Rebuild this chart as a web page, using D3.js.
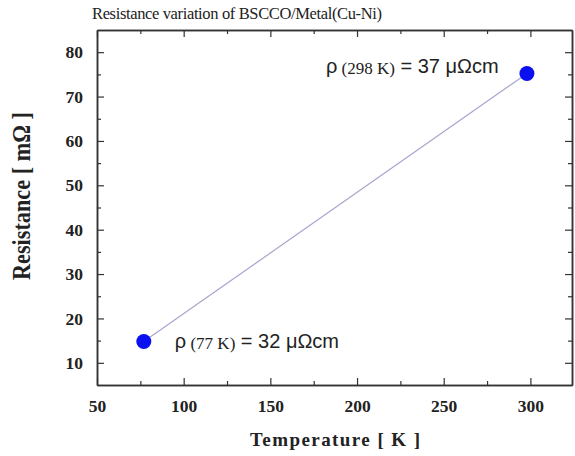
<!DOCTYPE html>
<html>
<head>
<meta charset="utf-8">
<script src="https://cdn.jsdelivr.net/npm/d3@7"></script>
<style>
  body { margin: 0; background: #fff; }
  svg text { font-family: "Liberation Serif", "Times New Roman", serif; }
</style>
</head>
<body>
<div id="chart"></div>
<script>
// data
var temps = [77, 298];
var resist = [14.8, 75.2];
var labels = ["(77 K)", "(298 K)"];
var rhoVals = ["= 32 μΩcm", "= 37 μΩcm"];
var xTicks = [50, 100, 150, 200, 250, 300];
var yTicks = [10, 20, 30, 40, 50, 60, 70, 80];

var outer_w = 575, outer_h = 456;
var margin = { top: 30, right: 3, bottom: 71, left: 97 };
var w = outer_w - margin.left - margin.right;
var h = outer_h - margin.top - margin.bottom;

var svg = d3.select("#chart").append("svg")
  .attr("width", outer_w)
  .attr("height", outer_h);

var g = svg.append("g")
  .attr("transform", "translate(" + margin.left + "," + margin.top + ")");

var x = d3.scaleLinear().domain([50, 324]).range([0, w]);
var y = d3.scaleLinear().domain([5, 85]).range([h, 0]);

// minor ticks
var xMinor = d3.range(75, 324, 50);
var yMinor = d3.range(15, 85, 10);

function styleAxis(sel) {
  sel.attr("font-family", null);
  sel.selectAll("path").attr("stroke", "#333").attr("stroke-width", 1.5);
  sel.selectAll("line").attr("stroke", "#333").attr("stroke-width", 1.2);
}
function styleLabels(s) {
  s.selectAll("text")
    .style("font-family", "'Liberation Serif', 'Times New Roman', serif")
    .style("font-size", "17.5px").style("font-weight", "bold")
    .attr("fill", "#222");
}

// bottom
g.append("g").attr("transform", "translate(0," + h + ")")
  .call(d3.axisBottom(x).tickValues(xTicks).tickSizeInner(-7).tickSizeOuter(0).tickPadding(15))
  .call(styleAxis)
  .call(styleLabels);
g.append("g").attr("transform", "translate(0," + h + ")")
  .call(d3.axisBottom(x).tickValues(xMinor).tickSizeInner(-4).tickSizeOuter(0).tickFormat(""))
  .call(styleAxis);

// top
g.append("g")
  .call(d3.axisTop(x).tickValues(xTicks).tickSizeInner(-7).tickSizeOuter(0).tickFormat(""))
  .call(styleAxis);
g.append("g")
  .call(d3.axisTop(x).tickValues(xMinor).tickSizeInner(-4).tickSizeOuter(0).tickFormat(""))
  .call(styleAxis);

// left
g.append("g")
  .call(d3.axisLeft(y).tickValues(yTicks).tickSizeInner(-7).tickSizeOuter(0).tickPadding(14))
  .call(styleAxis)
  .call(styleLabels);
g.append("g")
  .call(d3.axisLeft(y).tickValues(yMinor).tickSizeInner(-4).tickSizeOuter(0).tickFormat(""))
  .call(styleAxis);

// right
g.append("g").attr("transform", "translate(" + w + ",0)")
  .call(d3.axisRight(y).tickValues(yTicks).tickSizeInner(-7).tickSizeOuter(0).tickFormat(""))
  .call(styleAxis);
g.append("g").attr("transform", "translate(" + w + ",0)")
  .call(d3.axisRight(y).tickValues(yMinor).tickSizeInner(-4).tickSizeOuter(0).tickFormat(""))
  .call(styleAxis);

// line + points
var pts = temps.map(function (t, i) { return { t: t, r: resist[i] }; });
g.append("path")
  .datum(pts)
  .attr("fill", "none")
  .attr("stroke", "#a6a6cf")
  .attr("stroke-width", 1.2)
  .attr("d", d3.line().x(function (d) { return x(d.t); }).y(function (d) { return y(d.r); }));

g.selectAll("circle.pt")
  .data(pts)
  .enter().append("circle")
  .attr("class", "pt")
  .attr("cx", function (d) { return x(d.t); })
  .attr("cy", function (d) { return y(d.r); })
  .attr("r", 7.5)
  .attr("fill", "#0a10f0");

// annotations
var annoPos = [
  { dx: 31, dy: 6 },     // relative to point 77 K
  { dx: -201, dy: 0 }    // relative to point 298 K
];
pts.forEach(function (d, i) {
  var t = g.append("text")
    .attr("x", x(d.t) + annoPos[i].dx)
    .attr("y", y(d.r) + annoPos[i].dy)
    .attr("fill", "#222");
  t.append("tspan").text("ρ").style("font-size", "20px")
    .style("font-family", "'Liberation Sans', Arial, sans-serif");
  t.append("tspan").text(" " + labels[i]).style("font-size", "17px").attr("dy", 1);
  t.append("tspan").text(" " + rhoVals[i]).style("font-size", "20px").attr("dy", -1)
    .style("font-family", "'Liberation Sans', Arial, sans-serif");
});

// title
svg.append("text")
  .attr("x", 92).attr("y", 19)
  .attr("textLength", 290)
  .style("font-size", "16.5px")
  .attr("fill", "#222")
  .text("Resistance variation of BSCCO/Metal(Cu-Ni)");

// axis titles
svg.append("text")
  .attr("x", 250).attr("y", 446)
  .attr("textLength", 170)
  .style("font-size", "19px").style("font-weight", "bold")
  .attr("fill", "#222")
  .text("Temperature [ K ]");

svg.append("text")
  .attr("transform", "translate(30,280) rotate(-90)")
  .attr("textLength", 168)
  .attr("lengthAdjust", "spacingAndGlyphs")
  .style("font-size", "26px").style("font-weight", "bold")
  .attr("fill", "#222")
  .text("Resistance [ mΩ ]");
</script>
</body>
</html>
